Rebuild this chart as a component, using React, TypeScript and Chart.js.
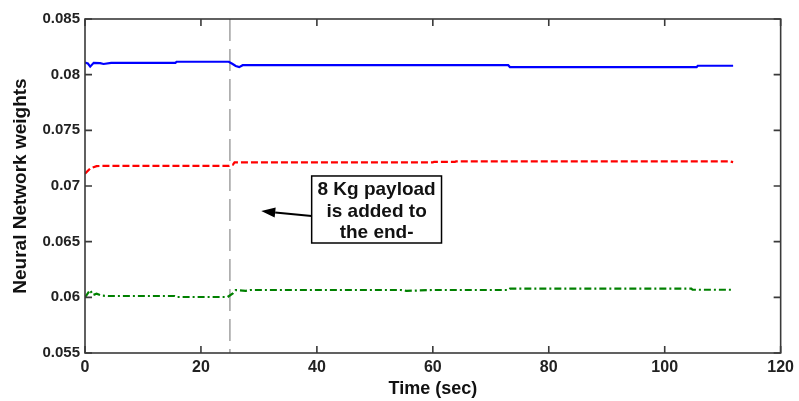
import React, { useEffect, useRef } from "react";
import { Chart, registerables } from "chart.js";

Chart.register(...registerables);

// ---- data ----
const blueT = [0, 0.5, 0.9, 1.5, 2.6, 3.2, 4.5, 15.6, 15.8, 24.8, 25.4, 26.0, 26.6, 27.2, 73.0, 73.3, 105.5, 105.7, 111.8];
const blueV = [0.08108, 0.08100, 0.08072, 0.08106, 0.08104, 0.08096, 0.08106, 0.08106, 0.08116, 0.08116, 0.08098, 0.08078, 0.08068, 0.08085, 0.08085, 0.08068, 0.08068, 0.0808, 0.0808];

const redT = [0, 0.9, 2.0, 3.0, 24.9, 25.5, 25.8, 60.0, 60.2, 63.8, 64.0, 111.2, 111.8];
const redV = [0.07111, 0.07158, 0.07178, 0.07181, 0.07181, 0.0719, 0.07213, 0.07213, 0.07216, 0.07216, 0.07221, 0.07221, 0.07214];

const greenT = [0, 0.86, 1.4, 2.0, 2.9, 4.0, 15.5, 15.8, 24.6, 25.5, 26.0, 27.7, 28.5, 54.5, 55.5, 60.0, 73.0, 73.3, 104.6, 104.8, 111.8];
const greenV = [0.06, 0.06065, 0.06021, 0.06033, 0.06015, 0.06012, 0.06012, 0.06003, 0.06003, 0.06035, 0.06065, 0.06058, 0.06066, 0.06066, 0.06058, 0.06066, 0.06066, 0.06078, 0.06078, 0.06068, 0.06068];

const xTicks = [0, 20, 40, 60, 80, 100, 120];
const yTicks = [0.055, 0.06, 0.065, 0.07, 0.075, 0.08, 0.085];
const yTickLabels = ["0.055", "0.06", "0.065", "0.07", "0.075", "0.08", "0.085"];

const eventTime = 25;
const noteLines = ["8 Kg payload", "is added to", "the end-"];

// annotation anchor (data coordinates)
const BOX = { t0: 39.1, t1: 61.5, vTop: 0.0709, vBottom: 0.06488 };
const ARROW = { tipT: 30.4, tipV: 0.06775, tailV: 0.0673 };

const FONT = "'Liberation Sans', Arial, sans-serif";

const toPts = (t: number[], v: number[]) => t.map((x, i) => ({ x, y: v[i] }));

const framePlugin = {
  id: "frame",
  beforeDatasetsDraw(chart: any) {
    const { ctx, chartArea: a, scales } = chart;
    const x = scales.x.getPixelForValue(eventTime);
    ctx.save();
    ctx.strokeStyle = "#8a8a8a";
    ctx.lineWidth = 1.2;
    ctx.setLineDash([22, 8]);
    ctx.beginPath();
    ctx.moveTo(x, a.top);
    ctx.lineTo(x, a.bottom);
    ctx.stroke();
    ctx.restore();
  },
  afterDraw(chart: any) {
    const { ctx, chartArea: a, scales } = chart;
    const xs = scales.x, ys = scales.y;
    ctx.save();
    // frame
    ctx.strokeStyle = "#3a3a3a";
    ctx.lineWidth = 1.6;
    ctx.setLineDash([]);
    ctx.strokeRect(a.left, a.top, a.right - a.left, a.bottom - a.top);
    // inner ticks
    const tl = 7;
    ctx.beginPath();
    xTicks.forEach((t) => {
      const px = xs.getPixelForValue(t);
      ctx.moveTo(px, a.bottom);
      ctx.lineTo(px, a.bottom - tl);
      ctx.moveTo(px, a.top);
      ctx.lineTo(px, a.top + tl);
    });
    yTicks.forEach((v) => {
      const py = ys.getPixelForValue(v);
      ctx.moveTo(a.left, py);
      ctx.lineTo(a.left + tl, py);
      ctx.moveTo(a.right, py);
      ctx.lineTo(a.right - tl, py);
    });
    ctx.stroke();

    // annotation box
    const bx0 = xs.getPixelForValue(BOX.t0);
    const bx1 = xs.getPixelForValue(BOX.t1);
    const by0 = ys.getPixelForValue(BOX.vTop);
    const by1 = ys.getPixelForValue(BOX.vBottom);
    ctx.fillStyle = "#ffffff";
    ctx.fillRect(bx0, by0, bx1 - bx0, by1 - by0);
    ctx.strokeStyle = "#000000";
    ctx.lineWidth = 1.5;
    ctx.strokeRect(bx0, by0, bx1 - bx0, by1 - by0);
    ctx.fillStyle = "#111111";
    ctx.font = `bold 19px ${FONT}`;
    ctx.textAlign = "center";
    ctx.textBaseline = "middle";
    const cx = (bx0 + bx1) / 2;
    const h = by1 - by0;
    [0.21, 0.53, 0.84].forEach((f, i) => ctx.fillText(noteLines[i], cx, by0 + h * f));

    // arrow
    const tx = xs.getPixelForValue(ARROW.tipT);
    const ty = ys.getPixelForValue(ARROW.tipV);
    const sx = bx0;
    const sy = ys.getPixelForValue(ARROW.tailV);
    const ang = Math.atan2(ty - sy, tx - sx);
    const hl = 14, hw = 5;
    const bxp = tx - hl * Math.cos(ang);
    const byp = ty - hl * Math.sin(ang);
    ctx.strokeStyle = "#000";
    ctx.lineWidth = 2;
    ctx.beginPath();
    ctx.moveTo(sx, sy);
    ctx.lineTo(bxp, byp);
    ctx.stroke();
    ctx.fillStyle = "#000";
    ctx.beginPath();
    ctx.moveTo(tx, ty);
    ctx.lineTo(bxp + hw * Math.sin(ang), byp - hw * Math.cos(ang));
    ctx.lineTo(bxp - hw * Math.sin(ang), byp + hw * Math.cos(ang));
    ctx.closePath();
    ctx.fill();
    ctx.restore();
  },
};

export default function App() {
  const ref = useRef<HTMLCanvasElement | null>(null);
  useEffect(() => {
    document.body.style.margin = "0";
    const canvas = ref.current!;
    const chart = new Chart(canvas, {
      type: "line",
      data: {
        datasets: [
          { data: toPts(blueT, blueV), borderColor: "#0000ff", borderWidth: 2.2, pointRadius: 0, fill: false, tension: 0 },
          { data: toPts(redT, redV), borderColor: "#ff0000", borderWidth: 2.2, borderDash: [7, 3], pointRadius: 0, fill: false, tension: 0 },
          { data: toPts(greenT, greenV), borderColor: "#008000", borderWidth: 2.2, borderDash: [7, 3, 2, 3], pointRadius: 0, fill: false, tension: 0 },
        ],
      },
      options: {
        responsive: false,
        animation: false,
        layout: { padding: { top: 19, right: 15, left: 0, bottom: 0 } },
        plugins: { legend: { display: false }, tooltip: { enabled: false } },
        scales: {
          x: {
            type: "linear",
            min: 0,
            max: 120,
            afterFit: (s: any) => { s.height = 48; },
            afterBuildTicks: (s: any) => { s.ticks = xTicks.map((v) => ({ value: v })); },
            grid: { display: false, drawTicks: false },
            border: { display: false },
            ticks: { padding: 5, color: "#222", font: { family: FONT, size: 16, weight: "bold" }, maxRotation: 0, callback: (v: any) => String(v) },
            title: { display: true, text: "Time (sec)", color: "#111", font: { family: FONT, size: 18, weight: "bold", lineHeight: 1.2 }, padding: { top: 0, bottom: 1.4 } },
          },
          y: {
            type: "linear",
            min: 0.055,
            max: 0.085,
            afterFit: (s: any) => { s.width = 85; },
            afterBuildTicks: (s: any) => { s.ticks = yTicks.map((v) => ({ value: v })); },
            grid: { display: false, drawTicks: false },
            border: { display: false },
            ticks: {
              padding: 5,
              color: "#222",
              font: { family: FONT, size: 15, weight: "bold" },
              callback: (v: any) => {
                const i = yTicks.findIndex((t) => Math.abs(t - v) < 1e-9);
                return i >= 0 ? yTickLabels[i] : "";
              },
            },
            title: { display: true, text: "Neural Network weights", color: "#111", font: { family: FONT, size: 19, weight: "bold", lineHeight: 1.2 }, padding: { top: 9.5, bottom: 0 } },
          },
        },
      },
      plugins: [framePlugin],
    } as any);
    return () => chart.destroy();
  }, []);
  return <canvas ref={ref} width={799} height={401} style={{ display: "block" }} />;
}
